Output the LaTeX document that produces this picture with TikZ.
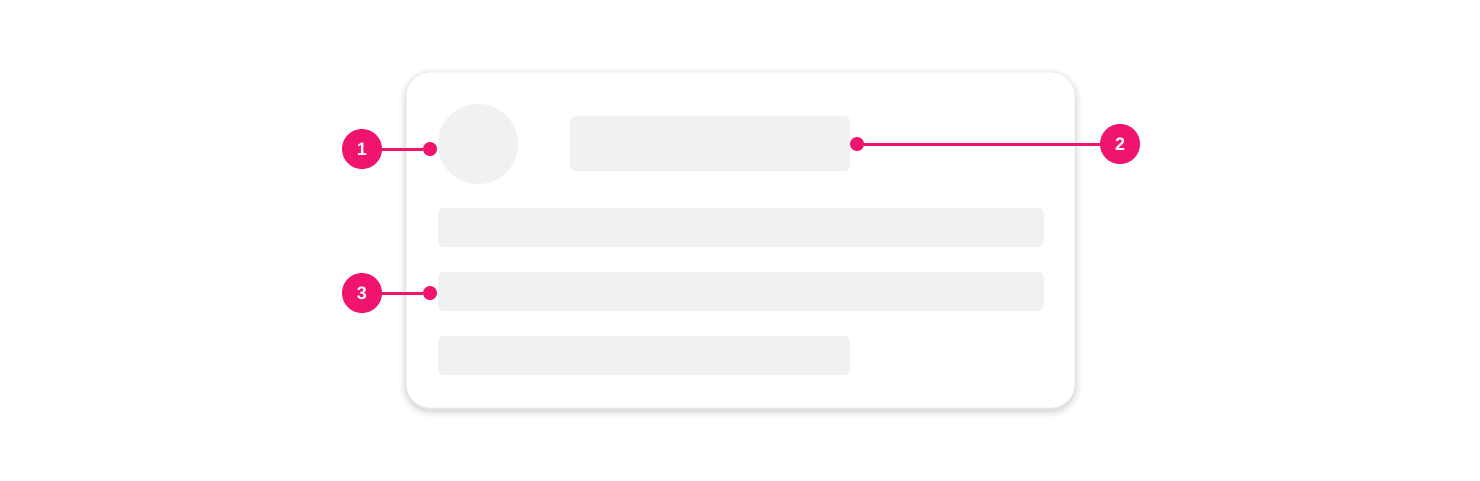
\documentclass[tikz,border=0pt]{standalone}
\usepackage{fontspec}
\setmainfont{Liberation Sans}
\definecolor{pink}{HTML}{F0146E}
\definecolor{skel}{HTML}{F0F1F3}
\definecolor{cardedge}{HTML}{EAEAEA}
\begin{document}
\begin{tikzpicture}[x=1pt,y=-1pt,
  skelbar/.style={fill=skel,draw=none,rounded corners=6pt},
  marker/.style={circle,fill=pink,text=white,inner sep=0pt,minimum size=40pt,font=\bfseries\fontsize{18}{18}\selectfont},
  dotmark/.style={circle,fill=pink,inner sep=0pt,minimum size=14pt},
  leader/.style={draw=pink,line width=3pt}]
\useasboundingbox (0,0) rectangle (1480,480);
% shadow
\foreach \i/\o in {8/0.015,6/0.025,4/0.035,2/0.05}{
  \fill[black,opacity=\o,rounded corners={24+\i}] (406-\i+1,73-\i+3) rectangle (1075+\i-1,408+\i+2);
}
\node[draw=cardedge,line width=0.8pt,fill=white,rounded corners=24pt,minimum width=669pt,minimum height=336pt,inner sep=0pt] (card) at (740.5,240) {};
\node[circle,fill=skel,minimum size=80pt,inner sep=0pt] (avatar) at (478,144) {};
\fill[skelbar] (570,116) rectangle (850,171);
\fill[skelbar] (438,208) rectangle (1044,247);
\fill[skelbar] (438,272) rectangle (1044,311);
\fill[skelbar] (438,336) rectangle (850,375);
\node[dotmark] (d1) at (430,149) {};
\node[dotmark] (d2) at (857,144) {};
\node[dotmark] (d3) at (430,293) {};
\node[marker] (m1) at (362,149) {1};
\node[marker] (m2) at (1120,144) {2};
\node[marker] (m3) at (362,293) {3};
\draw[leader] (m1) -- (d1);
\draw[leader] (m2) -- (d2);
\draw[leader] (m3) -- (d3);
\end{tikzpicture}
\end{document}
